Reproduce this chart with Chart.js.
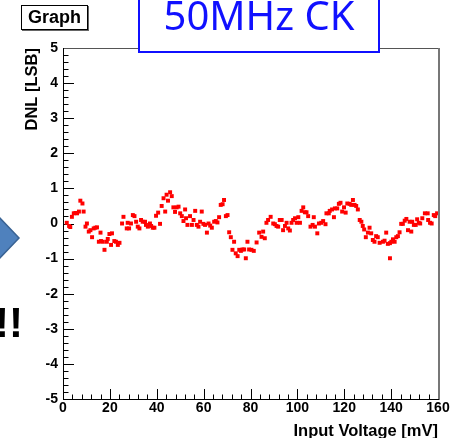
<!DOCTYPE html>
<html>
<head>
<meta charset="utf-8">
<script src="https://cdn.jsdelivr.net/npm/chart.js@4.4.1/dist/chart.umd.min.js"></script>
<style>
html,body{margin:0;padding:0;background:#fff;}
#wrap{position:relative;width:460px;height:438px;overflow:hidden;background:#fff;}
#c{position:absolute;left:0;top:0;}
#graphTitle{position:absolute;left:21px;top:5px;width:65px;height:23px;border:1px solid #000;box-shadow:1px 1px 0 #666;background:#fff;
  font:bold 18px "Liberation Sans",Arial,sans-serif;line-height:23px;text-align:center;color:#000;}
#ckBox{position:absolute;left:138px;top:-4px;width:238px;height:53px;border:2px solid #1010ff;background:#fff;}
#ckText{position:absolute;left:0;top:-3px;width:238px;text-align:center;font:40px "Noto Sans",sans-serif;line-height:40px;color:#1010ff;white-space:nowrap;}
#arrow{position:absolute;left:0;top:210px;}
#bang{position:absolute;left:-5px;top:302px;font:bold 42px "Liberation Sans",Arial,sans-serif;line-height:42px;color:#000;white-space:nowrap;}
</style>
</head>
<body>
<div id="wrap">
  <canvas id="c" width="460" height="438"></canvas>
  <div id="graphTitle">Graph</div>
  <div id="ckBox"><div id="ckText">50MHz CK</div></div>
  <svg id="arrow" width="24" height="56"><polygon points="-2,6 19,28 -2,50" fill="#4f81bd" stroke="#3a6394" stroke-width="1.5"/></svg>
  <div id="bang">!!</div>
</div>
<script>
// ---- data ----
const inputVoltage = [
  1.6,2.6,3.1,3.8,4.6,5.3,6.0,6.8,7.4,8.3,8.8,9.6,10.2,11.0,11.7,12.4,13.1,13.8,14.5,15.3,
  16.0,16.2,17.0,17.7,18.7,19.1,19.8,20.5,20.9,21.9,22.6,23.4,24.1,25.2,25.8,27.2,27.6,28.2,29.0,29.8,
  30.5,31.2,31.9,32.6,33.3,34.0,35.0,35.4,36.2,37.1,37.6,38.3,39.0,39.7,40.6,41.4,42.1,42.9,43.6,44.2,
  44.8,45.7,46.4,47.1,47.8,48.5,49.3,50.0,50.7,51.4,52.1,52.5,53.1,54.2,55.0,55.7,56.4,57.1,57.8,58.5,
  59.2,59.9,60.6,61.4,62.1,62.8,63.5,64.5,65.2,65.9,66.6,67.3,68.1,68.7,69.5,70.2,70.9,71.6,72.3,73.0,
  73.7,74.5,75.2,75.9,76.6,77.3,78.0,78.7,79.4,80.4,81.4,82.6,83.7,84.7,85.4,86.1,86.8,87.5,88.6,89.7,
  90.4,91.1,91.8,92.5,93.3,93.9,94.7,95.4,96.1,96.8,97.5,98.2,99.0,99.7,100.4,101.1,101.8,102.5,103.2,103.9,
  104.6,105.6,106.5,107.0,107.5,108.5,109.2,110.2,111.0,112.0,112.4,113.4,113.8,114.8,115.6,116.0,117.0,117.7,118.4,119.1,
  119.9,120.6,121.3,122.3,123.0,123.7,124.4,125.1,125.8,126.6,127.3,127.9,128.5,129.2,130.1,130.8,131.5,132.2,132.9,133.6,
  134.3,135.1,136.5,137.2,137.9,138.6,139.5,139.5,140.1,140.8,141.5,142.2,142.9,143.6,144.3,145.0,145.8,146.5,147.2,147.9,
  148.6,149.0,149.7,150.5,151.1,151.8,152.4,153.3,154.4,155.6,155.8,156.6,157.3,158.2,158.8,159.6
];
const dnl = [
  0.02,-0.07,-0.10,0.19,0.29,0.30,0.29,0.34,0.65,0.57,0.34,-0.09,0.00,-0.23,-0.19,-0.39,-0.14,-0.12,-0.11,-0.52,
  -0.26,-0.50,-0.52,-0.75,-0.52,-0.44,-0.30,-0.61,-0.28,-0.50,-0.52,-0.61,-0.55,0.00,0.19,-0.14,0.02,-0.14,0.00,0.24,
  0.21,0.05,-0.09,-0.14,0.10,0.05,0.05,-0.04,-0.09,0.00,-0.07,-0.12,-0.12,0.22,0.31,-0.01,0.50,0.72,0.34,0.82,
  0.65,0.89,0.78,0.46,0.33,0.46,0.48,0.29,0.21,0.07,0.40,0.15,-0.04,0.21,-0.04,0.10,0.36,-0.04,-0.09,0.05,
  0.34,-0.01,-0.04,-0.26,0.00,-0.06,-0.12,0.05,0.07,0.03,0.18,0.53,0.55,0.67,0.21,0.24,-0.25,-0.39,-0.75,-0.52,
  -0.85,-0.93,-0.75,-0.78,-0.74,-0.74,-0.99,-0.52,-0.74,-0.75,-0.78,-0.54,-0.26,-0.38,-0.23,-0.42,0.02,0.10,0.19,0.00,
  -0.02,-0.07,-0.09,0.10,0.10,-0.19,-0.07,0.02,-0.14,-0.20,0.02,0.10,0.15,0.02,0.18,0.02,0.36,0.46,0.32,0.32,
  0.21,-0.09,-0.04,0.18,-0.09,-0.28,0.00,0.02,0.07,-0.02,0.29,0.29,0.36,0.40,0.18,0.43,0.43,0.56,0.59,0.34,
  0.46,0.31,0.57,0.56,0.53,0.67,0.53,0.50,0.40,0.10,0.05,-0.07,-0.17,-0.39,-0.26,-0.12,-0.28,-0.47,-0.52,-0.36,
  -0.39,-0.55,-0.52,-0.49,-0.26,-0.58,-0.56,-0.99,-0.52,-0.45,-0.52,-0.39,-0.36,-0.25,-0.01,-0.01,0.08,0.13,-0.19,0.05,
  -0.23,0.05,-0.04,-0.04,0.12,0.02,0.00,0.15,0.29,0.29,0.10,0.02,0.00,0.24,0.21,0.29
];
const xRange = [0, 160];   // Input Voltage [mV]
const yRange = [-5, 5];    // DNL [LSB]
const xMajorStep = 20, xMinorStep = 4;
const yMajorStep = 1,  yMinorStep = 0.2;

const points = inputVoltage.map((v, i) => ({x: v, y: dnl[i]}));

const FONT = '"Liberation Sans", Arial, sans-serif';

// ROOT-style frame with inward ticks, drawn through the chart scales
const rootFrame = {
  id: 'rootFrame',
  beforeDatasetsDraw(chart) {
    const {ctx, chartArea: a, scales: {x, y}} = chart;
    ctx.save();
    ctx.strokeStyle = '#000';
    ctx.lineWidth = 1;
    const ny = Math.round((yRange[1] - yRange[0]) / yMinorStep);
    for (let i = 0; i <= ny; i++) {
      const v = yRange[0] + i * yMinorStep;
      const major = Math.abs(v / yMajorStep - Math.round(v / yMajorStep)) < 1e-6;
      const py = Math.round(y.getPixelForValue(v)) + 0.5;
      ctx.beginPath();
      ctx.moveTo(a.left, py);
      ctx.lineTo(a.left + (major ? 11 : 5.5), py);
      ctx.stroke();
    }
    const nx = Math.round((xRange[1] - xRange[0]) / xMinorStep);
    for (let i = 0; i <= nx; i++) {
      const v = xRange[0] + i * xMinorStep;
      const major = Math.abs(v / xMajorStep - Math.round(v / xMajorStep)) < 1e-6;
      const px = Math.round(x.getPixelForValue(v)) + 0.5;
      ctx.beginPath();
      ctx.moveTo(px, a.bottom);
      ctx.lineTo(px, a.bottom - (major ? 10 : 4.5));
      ctx.stroke();
    }
    ctx.strokeStyle = '#555';
    ctx.beginPath();
    ctx.moveTo(a.left, a.top + 0.5);
    ctx.lineTo(a.right, a.top + 0.5);
    ctx.stroke();
    ctx.strokeStyle = '#777';
    ctx.lineWidth = 2;
    ctx.beginPath();
    ctx.moveTo(a.right + 1, a.top);
    ctx.lineTo(a.right + 1, a.bottom + 1);
    ctx.stroke();
    ctx.strokeStyle = '#000';
    ctx.lineWidth = 1;
    ctx.beginPath();
    ctx.moveTo(a.left + 0.5, a.top);
    ctx.lineTo(a.left + 0.5, a.bottom + 0.5);
    ctx.lineTo(a.right + 1, a.bottom + 0.5);
    ctx.stroke();
    ctx.restore();
  }
};

new Chart(document.getElementById('c'), {
  type: 'scatter',
  data: {
    datasets: [{
      data: points,
      backgroundColor: '#ff0000',
      borderColor: '#ff0000',
      borderWidth: 0,
      pointStyle: 'rect',
      pointRadius: 2.8,
      pointHoverRadius: 2.8
    }]
  },
  options: {
    responsive: false,
    animation: false,
    events: [],
    layout: {padding: {left: 0, right: 22, top: 48, bottom: 0}},
    plugins: {legend: {display: false}, tooltip: {enabled: false}},
    scales: {
      x: {
        type: 'linear', position: 'bottom', min: xRange[0], max: xRange[1],
        grid: {display: false, drawTicks: false}, border: {display: false},
        ticks: {stepSize: xMajorStep, color: '#000', padding: 1, maxRotation: 0, autoSkip: false,
                font: {family: FONT, weight: 'bold', size: 14}},
        title: {display: true, text: 'Input Voltage [mV]', align: 'end', color: '#000', padding: 0,
                font: {family: FONT, weight: 'bold', size: 16.5, lineHeight: 0.75}},
        afterFit(s) { s.height = 39; }
      },
      y: {
        type: 'linear', min: yRange[0], max: yRange[1],
        grid: {display: false, drawTicks: false}, border: {display: false},
        ticks: {stepSize: yMajorStep, color: '#000', padding: 5,
                font: {family: FONT, weight: 'bold', size: 14}},
        title: {display: true, text: 'DNL [LSB]', align: 'end', color: '#000', padding: {top: 23, bottom: 0},
                font: {family: FONT, weight: 'bold', size: 16.5}},
        afterFit(s) { s.width = 63; }
      }
    }
  },
  plugins: [rootFrame]
});
</script>
</body>
</html>
